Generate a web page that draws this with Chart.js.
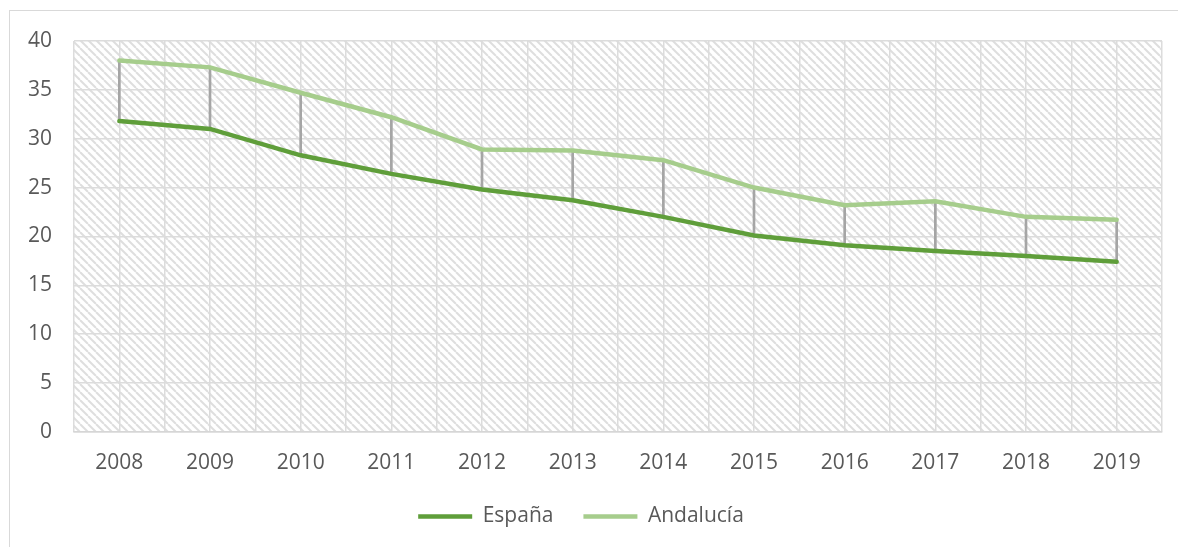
<!DOCTYPE html>
<html>
<head>
<meta charset="utf-8">
<script src="https://cdn.jsdelivr.net/npm/chart.js@4"></script>
<style>
  html,body{margin:0;padding:0;background:#fff;overflow:hidden;}
  #wrap{position:relative;width:1178px;height:547px;}
  #frame{position:absolute;left:9px;top:10px;width:1200px;height:600px;border:1px solid #d9d9d9;box-sizing:border-box;}
  canvas{position:absolute;left:0;top:0;}
</style>
</head>
<body>
<div id="wrap">
  <div id="frame"></div>
  <canvas id="c" width="1178" height="547"></canvas>
</div>
<script>
/* ── DATA ── */
const years     = ['2008','2009','2010','2011','2012','2013','2014','2015','2016','2017','2018','2019'];
const espana    = [31.8, 31.0, 28.3, 26.4, 24.8, 23.7, 22.0, 20.1, 19.1, 18.5, 18.0, 17.4];
const andalucia = [38.0, 37.3, 34.7, 32.2, 28.9, 28.8, 27.8, 25.0, 23.2, 23.6, 22.0, 21.7];
const yTicks    = [0, 5, 10, 15, 20, 25, 30, 35, 40];

// high-low lines between the two series, drawn as thin floating bars
const dropLines = espana.map((v,i)=>[v, andalucia[i]]);

const TXT = '#595959';
const FONT = {family:'"Open Sans", "Liberation Sans", sans-serif', size:21};

/* ── hatched plot background ── */
function hatch() {
  const p = document.createElement('canvas');
  p.width = 8; p.height = 8;
  const g = p.getContext('2d');
  g.fillStyle = '#fff'; g.fillRect(0,0,8,8);
  g.strokeStyle = '#dedede'; g.lineWidth = 2;
  [-8,0,8].forEach(o=>{ g.beginPath(); g.moveTo(o,0); g.lineTo(o+8,8); g.stroke(); });
  return g.createPattern(p,'repeat');
}
const bgPlugin = {
  id:'hatchBg',
  beforeDraw(chart){
    const {ctx, chartArea:a} = chart;
    ctx.save();
    ctx.fillStyle = hatch();
    ctx.fillRect(a.left, a.top, a.right-a.left, a.bottom-a.top);
    ctx.restore();
  }
};

new Chart(document.getElementById('c'), {
  type:'line',
  data:{
    labels: years,
    datasets:[
      { label:'España', data:espana, borderColor:'#5f9e3a', backgroundColor:'#5f9e3a',
        borderWidth:4.5, pointRadius:0, tension:0, borderCapStyle:'round', order:0 },
      { label:'Andalucía', data:andalucia, borderColor:'#a6cd8c', backgroundColor:'#a6cd8c',
        borderWidth:4.5, pointRadius:0, tension:0, borderCapStyle:'round', order:1 },
      { type:'bar', label:'drop', data:dropLines, backgroundColor:'#a5a5a5',
        barThickness:2, order:2 }
    ]
  },
  plugins:[bgPlugin],
  options:{
    responsive:false, animation:false,
    events:[],
    layout:{padding:{top:41, right:16, left:0, bottom:10}},
    plugins:{
      tooltip:{enabled:false},
      legend:{
        position:'bottom',
        labels:{
          color:TXT, font:FONT, usePointStyle:true, pointStyle:'line',
          pointStyleWidth:54, padding:30,
          filter: it => it.text !== 'drop'
        }
      }
    },
    scales:{
      x:{
        offset:true,
        grid:{offset:true, color:'#dcdcdc', lineWidth:1.5, drawTicks:false},
        border:{color:'#d6d6d6', width:1.5},
        ticks:{color:TXT, font:FONT, padding:19},
        afterFit: s => { s.height -= 19; }
      },
      x2:{
        type:'category', position:'bottom', offset:true,
        grid:{offset:false, color:'#dcdcdc', lineWidth:1.5, drawTicks:false},
        border:{display:false},
        ticks:{display:false},
        afterFit: s => { s.height = 0; }
      },
      y:{
        min:0, max:40,
        afterBuildTicks: s => { s.ticks = yTicks.map(v=>({value:v})); },
        grid:{color:'#dcdcdc', lineWidth:1.5, drawTicks:false},
        border:{display:false},
        ticks:{color:TXT, font:FONT, padding:22},
        afterFit: s => { s.width = 74; }
      }
    }
  }
});
</script>
</body>
</html>
